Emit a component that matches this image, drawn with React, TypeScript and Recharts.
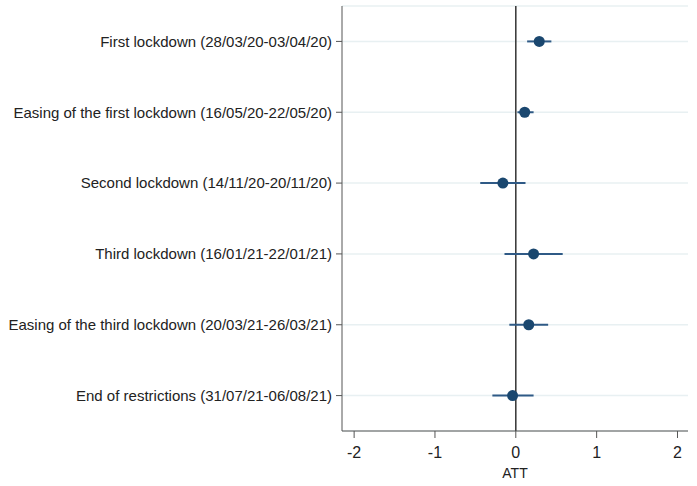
import React from "react";
import { ScatterChart, Scatter, XAxis, YAxis, CartesianGrid, ReferenceLine, ErrorBar } from "recharts";

const labels = [
  "First lockdown (28/03/20-03/04/20)",
  "Easing of the first lockdown (16/05/20-22/05/20)",
  "Second lockdown (14/11/20-20/11/20)",
  "Third lockdown (16/01/21-22/01/21)",
  "Easing of the third lockdown (20/03/21-26/03/21)",
  "End of restrictions (31/07/21-06/08/21)",
];
const att = [0.29, 0.11, -0.16, 0.22, 0.16, -0.04];
const ciLow = [0.14, 0.02, -0.44, -0.14, -0.08, -0.29];
const ciHigh = [0.44, 0.22, 0.12, 0.58, 0.40, 0.22];
const xTicks = [-2, -1, 0, 1, 2];

const data = labels.map((l, i) => ({
  row: i + 1,
  att: att[i],
  err: [att[i] - ciLow[i], ciHigh[i] - att[i]],
}));

const FONT = "Liberation Sans, Arial, sans-serif";

export default function App() {
  return (
    <div style={{ position: "absolute", left: 0, top: 0, width: 697, height: 486, background: "#fff" }}>
      <ScatterChart width={697} height={486} margin={{ top: 6, right: 9, bottom: 0, left: 0 }}>
        <CartesianGrid vertical={false} stroke="#e8f0f2" strokeWidth={1.5} />
        <XAxis
          type="number"
          dataKey="att"
          domain={[-2.15, 2.13]}
          ticks={xTicks}
          allowDataOverflow
          height={55}
          stroke="#555"
          tickSize={7}
          tickMargin={9}
          tick={{ fill: "#222", fontSize: 16, fontFamily: FONT }}
          tickLine={{ stroke: "#555" }}
          label={{ value: "ATT", position: "insideBottom", offset: 8, fill: "#222", fontSize: 14, fontFamily: FONT }}
        />
        <YAxis
          type="number"
          dataKey="row"
          domain={[0.5, 6.5]}
          ticks={[1, 2, 3, 4, 5, 6]}
          reversed
          width={342}
          stroke="#555"
          tickSize={6}
          tickMargin={4}
          tickFormatter={(v: number) => labels[v - 1]}
          tick={{ fill: "#222", fontSize: 15, fontFamily: FONT }}
          tickLine={{ stroke: "#555" }}
          interval={0}
        />
        <ReferenceLine x={0} stroke="#333" strokeWidth={1.5} />
        <Scatter data={data} fill="#1a476f" isAnimationActive={false} shape={(p: any) => <circle cx={p.cx} cy={p.cy} r={5.5} fill="#1a476f" />}>
          <ErrorBar dataKey="err" direction="x" width={0} stroke="#2f5a86" strokeWidth={2} />
        </Scatter>
      </ScatterChart>
    </div>
  );
}
